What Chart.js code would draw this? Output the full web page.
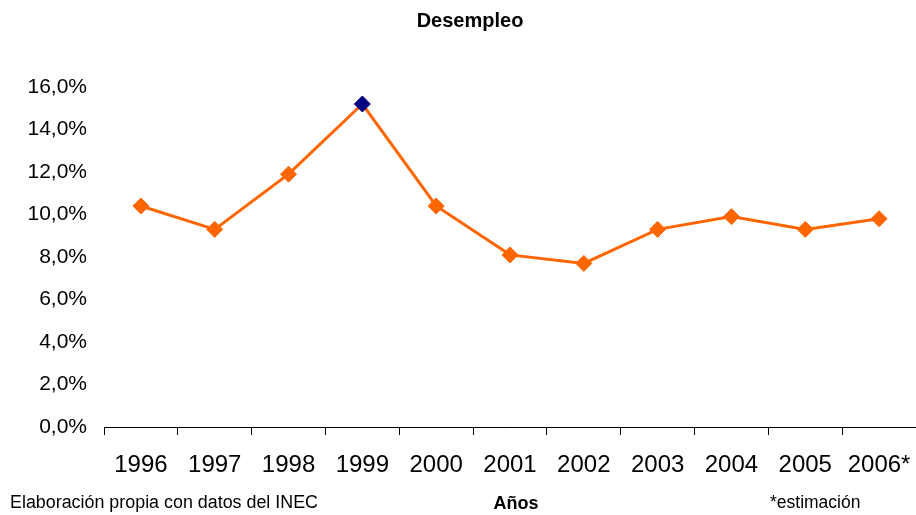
<!DOCTYPE html>
<html lang="es">
<head>
  <meta charset="UTF-8" />
  <title>Desempleo</title>
  <script src="https://cdn.jsdelivr.net/npm/chart.js"></script>
  <style>
    body { margin: 0; background: #fff; }
    #wrap { width: 916px; height: 515px; position: relative; }
  </style>
</head>
<body>
  <div id="wrap"><canvas id="chart"></canvas></div>

  <script>
    // datos (tasa de desempleo, %)
    const years = ['1996', '1997', '1998', '1999', '2000', '2001', '2002', '2003', '2004', '2005', '2006*'];
    const desempleo = [10.4, 9.3, 11.9, 15.2, 10.4, 8.1, 7.7, 9.3, 9.9, 9.3, 9.8];
    const yTicks = [0, 2, 4, 6, 8, 10, 12, 14, 16];

    const orange = '#FF6600';
    const navy = '#000080';
    const FONT = "'Liberation Sans', Arial, sans-serif";

    // punto máximo en azul
    const peak = desempleo.indexOf(Math.max(...desempleo));
    const markerColors = desempleo.map((v, i) => i === peak ? navy : orange);

    // textos fijos: título y notas al pie
    const textos = {
      id: 'textos',
      afterDraw(chart) {
        const ctx = chart.ctx;
        ctx.save();
        ctx.fillStyle = '#000';
        ctx.textBaseline = 'middle';

        ctx.font = 'bold 20px ' + FONT;
        ctx.textAlign = 'center';
        ctx.fillText('Desempleo', 470, 21);

        ctx.font = 'bold 18px ' + FONT;
        ctx.fillText('Años', 516, 504);

        ctx.font = '17.5px ' + FONT;
        ctx.textAlign = 'left';
        ctx.fillText('*estimación', 770, 503);
        ctx.font = '18px ' + FONT;
        ctx.fillText('Elaboración propia con datos del INEC', 10, 503, 308);
        ctx.restore();
      }
    };

    new Chart(document.getElementById('chart'), {
      type: 'line',
      data: {
        labels: years,
        datasets: [{
          data: desempleo,
          borderColor: orange,
          borderWidth: 3,
          pointStyle: 'rectRot',
          pointRadius: 8,
          pointHoverRadius: 8,
          pointBackgroundColor: markerColors,
          pointBorderColor: markerColors,
          pointBorderWidth: 1,
          tension: 0
        }]
      },
      options: {
        responsive: true,
        maintainAspectRatio: false,
        animation: false,
        layout: { autoPadding: false, padding: { top: 87, left: 0, right: 0, bottom: 0 } },
        plugins: {
          legend: { display: false },
          title: { display: false },
          tooltip: { enabled: false }
        },
        scales: {
          x: {
            offset: true,
            afterFit: s => { s.height = 88; },
            grid: {
              offset: true,
              drawOnChartArea: false,
              drawTicks: true,
              tickLength: 8,
              color: '#000'
            },
            border: { display: true, color: '#000', width: 1 },
            ticks: {
              color: '#000',
              padding: 2,   // poco padding para que no reserve margen a la derecha
              maxRotation: 0,
              autoSkip: false,
              font: { family: FONT, size: 24, lineHeight: 2.33 }
            }
          },
          y: {
            min: yTicks[0],
            max: yTicks[yTicks.length - 1],
            afterFit: s => { s.width = 104; },
            afterBuildTicks: s => { s.ticks = yTicks.map(v => ({ value: v })); },
            grid: { display: false, drawTicks: false },
            border: { display: false },
            ticks: {
              color: '#000',
              padding: 17,
              font: { family: FONT, size: 21 },
              callback: v => v.toFixed(1).replace('.', ',') + '%'
            }
          }
        }
      },
      plugins: [textos]
    });
  </script>
</body>
</html>
